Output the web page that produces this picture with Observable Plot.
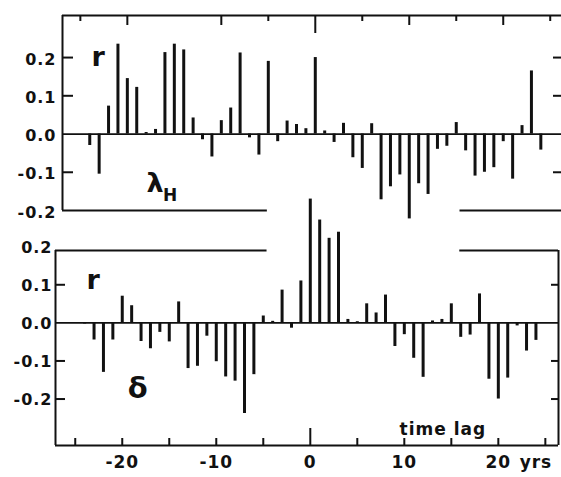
<!DOCTYPE html>
<html><head><meta charset="utf-8">
<script src="https://cdn.jsdelivr.net/npm/d3@7"></script>
<script src="https://cdn.jsdelivr.net/npm/@observablehq/plot@0.6"></script>
<style>
html,body{margin:0;padding:0;background:#fff;}
#chart{position:relative;width:561px;height:477px;overflow:hidden;background:#fff;}
#chart svg{position:absolute;left:0;background:transparent;overflow:visible;}
</style></head><body><div id="chart"></div>
<script>
// time lags (years)
const lags = [-24,-23,-22,-21,-20,-19,-18,-17,-16,-15,-14,-13,-12,-11,-10,-9,-8,-7,-6,-5,-4,-3,-2,-1,
  0,1,2,3,4,5,6,7,8,9,10,11,12,13,14,15,16,17,18,19,20,21,22,23,24];
// correlation r, upper panel (lambda_H)
const lambdaR = [-0.03,-0.105,0.073,0.235,0.145,0.122,0.004,0.012,0.213,0.235,0.22,0.042,-0.015,-0.06,0.035,0.068,0.212,-0.01,-0.055,0.19,-0.02,0.034,0.025,0.014,
  0.2,0.008,-0.022,0.028,-0.062,-0.09,0.027,-0.172,-0.138,-0.107,-0.222,-0.13,-0.158,-0.04,-0.032,0.03,-0.044,-0.11,-0.1,-0.088,-0.02,-0.118,0.022,0.165,-0.042];
// correlation r, lower panel (delta)
const deltaR = [-0.003,-0.045,-0.13,-0.045,0.07,0.045,-0.049,-0.068,-0.025,-0.05,0.055,-0.12,-0.114,-0.035,-0.102,-0.142,-0.153,-0.238,-0.136,0.018,0.004,0.086,-0.014,0.11,
  0.325,0.27,0.222,0.238,0.009,0.003,0.05,0.026,0.073,-0.062,-0.031,-0.093,-0.143,0.005,0.009,0.05,-0.038,-0.032,0.076,-0.148,-0.2,-0.145,-0.008,-0.074,-0.046];

const xTickValues = [-20,-10,0,10,20];
const xTickLabels = ["-20","-10","0","10","20"];
const yTickValues = [0.2,0.1,0.0,-0.1,-0.2];
const yTickLabels = ["0.2","0.1","0.0","-0.1","-0.2"];
const topMajorTicks = [-20,-10,10,20];
const topMinorTicks = [-25,-5,5,15,25];
const bottomTicks = [-25,-20,-15,-10,-5,5,10,15,20,25];
const zeroTick = [0];
const topInnerYTicks = [0.2,0.1,-0.1];
const bottomInnerYTicks = [0.1,-0.1,-0.2];

const lambdaData = lags.map((lag,i)=>({lag, r: lambdaR[i]}));
const deltaData = lags.map((lag,i)=>({lag, r: deltaR[i]}));
const yTicks = yTickValues.map((v,i)=>({v, label: yTickLabels[i]}));
const xTicks = xTickValues.map((v,i)=>({v, label: xTickLabels[i]}));

const ink = "#111";
const font = "'DejaVu Sans', sans-serif";
const chart = document.getElementById("chart");

// ---------- upper panel ----------
const tX = [-26.9, 26.2], tY = [-0.2, 0.31];
const tW = 561, tH = 212, tML = 62, tMR = 0, tMT = 15, tMB = 2;
const tFW = tW - tML - tMR, tFH = tH - tMT - tMB;
const topGap = [{y: -0.2, x1: tX[0], x2: -5.1}, {y: -0.2, x1: 15.4, x2: tX[1]}];
const topPlot = Plot.plot({
  width: tW, height: tH, marginLeft: tML, marginRight: tMR, marginTop: tMT, marginBottom: tMB,
  x: {domain: tX, axis: null}, y: {domain: tY, axis: null},
  style: {background: "transparent", overflow: "visible", letterSpacing: "1px"},
  marks: [
    Plot.ruleY([0], {stroke: ink, strokeWidth: 1.8}),
    Plot.ruleY([tY[1]], {stroke: ink, strokeWidth: 2}),
    Plot.ruleX([tX[0]], {y1: tY[0], y2: tY[1], stroke: ink, strokeWidth: 2}),
    Plot.ruleY(topGap, {y: "y", x1: "x1", x2: "x2", stroke: ink, strokeWidth: 2}),
    Plot.tickX(topMajorTicks, {x: d=>d, insetBottom: tFH - 10, stroke: ink, strokeWidth: 2}),
    Plot.tickX(topMinorTicks, {x: d=>d, insetBottom: tFH - 6, stroke: ink, strokeWidth: 2}),
    Plot.tickX(zeroTick, {x: d=>d, insetBottom: tFH - 18, stroke: ink, strokeWidth: 2}),
    Plot.tickY(topInnerYTicks, {y: d=>d, insetRight: tFW - 11, stroke: ink, strokeWidth: 2}),
    Plot.tickY(topInnerYTicks, {y: d=>d, insetLeft: tFW - 8, stroke: ink, strokeWidth: 2}),
    Plot.ruleX(lambdaData, {x: "lag", y1: 0, y2: "r", stroke: ink, strokeWidth: 3}),
    Plot.text(yTicks, {y: "v", text: "label", frameAnchor: "left", textAnchor: "end", dx: -6, dy: 2,
      fontSize: 16, fontWeight: "bold", fontFamily: font, fill: ink}),
    Plot.text(["r"], {frameAnchor: "top-left", dx: 29, dy: 31, text: d=>d, fontSize: 27, fontWeight: "bold", fontFamily: font, fill: ink}),
    Plot.text(["λ"], {x: -17.0, y: -0.128, text: d=>d, fontSize: 27, fontWeight: "bold", fontFamily: font, fill: ink}),
    Plot.text(["H"], {x: -15.4, y: -0.162, text: d=>d, fontSize: 17, fontWeight: "bold", fontFamily: font, fill: ink})
  ]
});
topPlot.style.top = "0px";
chart.appendChild(topPlot);

// ---------- lower panel ----------
const bX = [-27.1, 26.4], bY = [-0.322, 0.19];
const bW = 561, bH = 277, bML = 55, bMR = 3, bMT = 50, bMB = 32;
const bFW = bW - bML - bMR, bFH = bH - bMT - bMB;
const bottomGap = [{y: bY[1], x1: bX[0], x2: -4.6}, {y: bY[1], x1: 15.9, x2: bX[1]}];
const bottomPlot = Plot.plot({
  width: bW, height: bH, marginLeft: bML, marginRight: bMR, marginTop: bMT, marginBottom: bMB,
  x: {domain: bX, axis: null}, y: {domain: bY, axis: null},
  style: {background: "transparent", overflow: "visible", letterSpacing: "1px"},
  marks: [
    Plot.ruleY([0], {stroke: ink, strokeWidth: 1.8}),
    Plot.ruleY([bY[0]], {stroke: ink, strokeWidth: 2}),
    Plot.ruleX([bX[0], bX[1]], {y1: bY[0], y2: bY[1], stroke: ink, strokeWidth: 2}),
    Plot.ruleY(bottomGap, {y: "y", x1: "x1", x2: "x2", stroke: ink, strokeWidth: 2}),
    Plot.tickX(bottomTicks, {x: d=>d, insetTop: bFH - 7, stroke: ink, strokeWidth: 2}),
    Plot.tickX(zeroTick, {x: d=>d, insetTop: bFH - 17, stroke: ink, strokeWidth: 2}),
    Plot.tickY(bottomInnerYTicks, {y: d=>d, insetRight: bFW - 10, stroke: ink, strokeWidth: 2}),
    Plot.tickY(bottomInnerYTicks, {y: d=>d, insetLeft: bFW - 7, stroke: ink, strokeWidth: 2}),
    Plot.ruleX(deltaData, {x: "lag", y1: 0, y2: "r", stroke: ink, strokeWidth: 3}),
    Plot.text(yTicks, {y: "v", text: "label", frameAnchor: "left", textAnchor: "end", dx: -3, dy: 1,
      fontSize: 16, fontWeight: "bold", fontFamily: font, fill: ink}),
    Plot.text(xTicks, {x: "v", text: "label", frameAnchor: "bottom", lineAnchor: "middle", dy: 17,
      fontSize: 17, fontWeight: "bold", fontFamily: font, fill: ink}),
    Plot.text(["yrs"], {x: 24.0, frameAnchor: "bottom", lineAnchor: "middle", dy: 17, text: d=>d,
      fontSize: 17, fontWeight: "bold", fontFamily: font, fill: ink}),
    Plot.text(["time lag"], {x: 14.1, frameAnchor: "bottom", lineAnchor: "middle", dy: -16, text: d=>d,
      fontSize: 17, fontWeight: "bold", fontFamily: font, fill: ink, style: "letter-spacing:2px"}),
    Plot.text(["r"], {frameAnchor: "top-left", dx: 31, dy: 19, text: d=>d, fontSize: 27, fontWeight: "bold", fontFamily: font, fill: ink}),
    Plot.text(["δ"], {x: -18.3, y: -0.172, text: d=>d, fontSize: 29, fontWeight: "bold", fontFamily: font, fill: ink})
  ]
});
bottomPlot.style.top = "200px";
chart.appendChild(bottomPlot);
</script></body></html>
